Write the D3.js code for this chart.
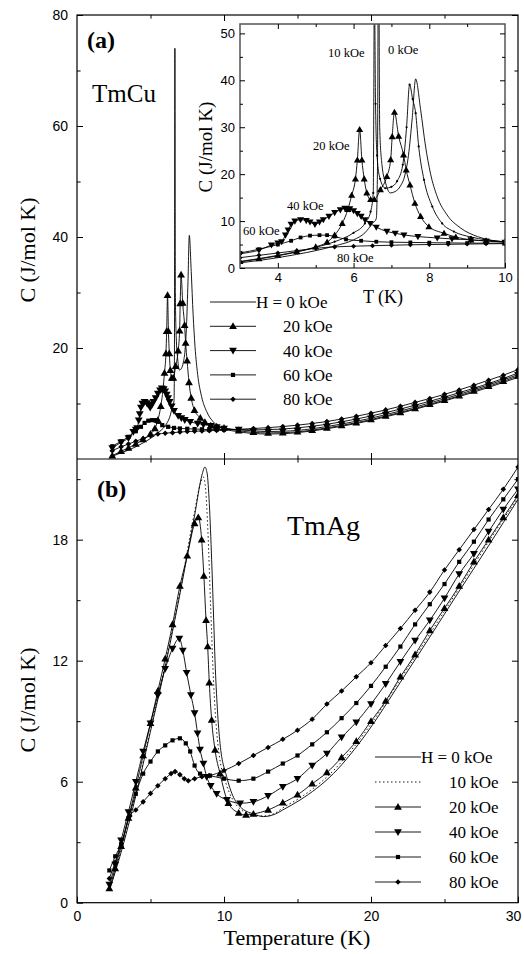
<!DOCTYPE html>
<html>
<head>
<meta charset="utf-8">
<script src="https://cdn.jsdelivr.net/npm/d3@7"></script>
<style>
  body { margin: 0; background: #fff; }
  svg { display: block; }
</style>
</head>
<body>
<div id="chart"></div>
<script>
// TmCu, panel (a) and its inset: [T (K), C (J/mol K)]
var cu0 = [[2.4,0.5],[3,1.1],[3.5,1.6],[4,2.2],[4.5,2.9],[5,3.7],[5.5,4.7],[6,6.0],[6.3,7.5],[6.5,9.5],[6.6,10.5],[6.63,20],[6.66,74],[6.69,30],[6.75,22],[6.85,18],[6.97,16.0],[7.1,16.3],[7.24,17.5],[7.35,19.6],[7.45,24],[7.55,32],[7.64,40.3],[7.77,33.8],[7.9,26],[8.03,20.2],[8.21,15.2],[8.47,11.3],[8.83,8.5],[9.27,6.7],[10,5.5],[11,4.9],[12,4.6],[13,4.5],[14,4.55],[15,4.75],[16,5.05],[17,5.45],[18,5.9],[19,6.4],[20,6.95],[21,7.6],[22,8.25],[23,8.95],[24,9.7],[25,10.45],[26,11.25],[27,12.05],[28,12.9],[29,13.8],[30,14.7]];
var cu10 = [[3,1.3],[3.5,1.9],[4,2.6],[4.5,3.4],[5,4.4],[5.5,5.6],[6,7.5],[6.3,9.5],[6.45,12],[6.52,16],[6.55,60],[6.58,35],[6.62,24],[6.7,19],[6.84,17.0],[7.0,17.3],[7.15,18.5],[7.3,22],[7.4,30],[7.48,39.1],[7.56,36],[7.64,33],[7.72,25.9],[7.86,18.8],[8.08,13.1],[8.34,9.5],[8.65,7.76],[9.1,6.6],[9.5,6.0],[10,5.6]];
var cu20 = [[2.4,0.6],[3,1.4],[3.5,2.0],[4,2.7],[4.5,3.5],[5,4.5],[5.3,5.5],[5.5,7.0],[5.7,9.5],[5.85,12.5],[5.95,15.5],[6.05,19],[6.1,23],[6.16,29.5],[6.22,23],[6.28,19],[6.35,16],[6.45,14.6],[6.55,14.6],[6.71,16.7],[6.88,19.5],[6.98,23.1],[7.02,28],[7.08,33.2],[7.19,28.1],[7.32,24.1],[7.39,20.9],[7.49,17.7],[7.62,13.8],[7.77,11.0],[7.99,8.8],[8.39,7.4],[8.7,6.6],[9.1,6.0],[9.5,5.8],[10,5.6],[11,5.1],[12,4.8],[13,4.7],[14,4.75],[15,4.9],[16,5.2],[17,5.6],[18,6.05],[19,6.55],[20,7.1],[21,7.75],[22,8.4],[23,9.1],[24,9.85],[25,10.6],[26,11.4],[27,12.25],[28,13.1],[29,14.0],[30,14.95]];
var cu40 = [[2.4,2.0],[3,3.0],[3.5,3.8],[3.83,4.9],[4.0,5.3],[4.1,5.6],[4.2,7.0],[4.27,8.1],[4.35,9.3],[4.45,10.0],[4.6,10.3],[4.75,10.1],[4.85,9.8],[4.98,9.3],[5.1,9.8],[5.2,10.3],[5.35,11.0],[5.5,11.8],[5.65,12.4],[5.77,12.75],[5.9,12.6],[6.0,12.2],[6.1,11.6],[6.2,11.0],[6.3,10.3],[6.44,9.5],[6.6,8.7],[6.88,7.8],[7.1,7.4],[7.33,7.05],[7.7,6.7],[8.21,6.4],[8.6,6.2],[9.1,6.0],[9.5,5.75],[10,5.5],[11,5.3],[12,5.05],[13,4.95],[14,5.0],[15,5.15],[16,5.45],[17,5.85],[18,6.3],[19,6.8],[20,7.35],[21,8.0],[22,8.65],[23,9.35],[24,10.1],[25,10.85],[26,11.65],[27,12.5],[28,13.35],[29,14.25],[30,15.2]];
var cu60 = [[2.4,2.3],[3,3.2],[3.5,4.0],[4,5.0],[4.35,5.8],[4.6,6.5],[4.85,6.9],[5.1,7.0],[5.3,7.0],[5.5,6.7],[5.8,6.1],[6.2,5.8],[6.6,5.6],[7,5.5],[7.5,5.45],[8,5.4],[8.5,5.35],[9,5.3],[9.5,5.3],[10,5.3],[11,5.3],[12,5.25],[13,5.3],[14,5.4],[15,5.6],[16,5.9],[17,6.25],[18,6.7],[19,7.2],[20,7.75],[21,8.35],[22,9.0],[23,9.7],[24,10.4],[25,11.15],[26,11.95],[27,12.75],[28,13.6],[29,14.5],[30,15.5]];
var cu80 = [[2.4,1.5],[3,2.2],[3.5,2.7],[4,3.2],[4.5,3.7],[5,4.2],[5.5,4.5],[6,4.65],[6.5,4.75],[7,4.85],[7.5,4.95],[8,5.0],[8.5,5.05],[9,5.1],[9.5,5.15],[10,5.2],[11,5.35],[12,5.5],[13,5.65],[14,5.85],[15,6.1],[16,6.4],[17,6.75],[18,7.2],[19,7.7],[20,8.25],[21,8.85],[22,9.5],[23,10.2],[24,10.9],[25,11.65],[26,12.45],[27,13.3],[28,14.2],[29,15.1],[30,16.1]];

// TmAg, panel (b)
var ag0 = [[2.2,0.6],[3,2.5],[4,5.3],[5,8.5],[6,11.7],[7,15.3],[8,19.2],[8.5,21.2],[8.7,21.6],[8.85,21.3],[9.0,19.8],[9.16,17],[9.3,14],[9.39,12],[9.55,9.6],[9.73,7.9],[10.18,6.25],[10.6,5.3],[11.1,4.76],[12,4.4],[12.7,4.27],[13.5,4.4],[14,4.6],[15.17,5.09],[17.44,6.4],[19.7,8.4],[21.97,10.9],[24.2,13.4],[26,15.45],[28,17.7],[30,20.0]];
var ag10 = [[2.2,0.6],[3,2.6],[4,5.4],[5,8.6],[6,11.8],[7,15.4],[8,19.4],[8.4,20.8],[8.6,21.1],[8.75,20.5],[8.9,18.5],[9.1,14.5],[9.3,10.8],[9.5,8.5],[9.7,7.2],[10.1,6.0],[10.6,5.1],[11.1,4.65],[12,4.35],[12.7,4.3],[13.5,4.45],[14,4.7],[15.17,5.2],[17.44,6.55],[19.7,8.55],[21.97,11.05],[24.2,13.55],[26,15.6],[28,17.9],[30,20.1]];
var ag20 = [[2.2,0.7],[2.6,1.7],[3,2.8],[3.5,4.2],[4,5.7],[4.5,7.3],[5,8.9],[5.5,10.5],[6,12.1],[6.5,13.8],[7,15.7],[7.5,17.2],[8,18.8],[8.25,19.1],[8.48,18.0],[8.63,16.2],[8.78,14.0],[8.89,12.7],[9.0,10.9],[9.16,9.06],[9.39,7.57],[9.73,6.4],[10.3,4.93],[11,4.45],[11.5,4.35],[12,4.4],[13,4.6],[14,4.95],[15,5.35],[16,5.9],[17,6.45],[18,7.2],[19,8.0],[20,9.0],[21,10.0],[22,11.2],[23,12.3],[24,13.5],[25,14.6],[26,15.7],[27,16.9],[28,18.0],[29,19.1],[30,20.2]];
var ag40 = [[2.2,0.9],[2.6,1.9],[3,3.1],[3.5,4.5],[4,6.0],[4.5,7.5],[5,8.9],[5.5,10.3],[6,11.6],[6.5,12.6],[6.96,13.1],[7.2,12.5],[7.46,11.4],[7.75,10.3],[8.0,9.4],[8.2,8.4],[8.37,7.6],[8.6,6.9],[8.82,6.25],[9.1,5.8],[9.5,5.4],[10.2,5.1],[11.1,4.93],[12,5.0],[13,5.3],[14,5.75],[15,6.15],[16,6.8],[17,7.4],[18,8.2],[19,8.95],[20,9.85],[21,10.85],[22,11.95],[23,13.0],[24,14.0],[25,15.1],[26,16.3],[27,17.3],[28,18.4],[29,19.5],[30,20.5]];
var ag60 = [[2.2,1.6],[2.6,2.3],[3,2.9],[3.5,4.2],[4,5.4],[4.5,6.4],[5,7.0],[5.5,7.5],[6,7.8],[6.5,8.05],[7.0,8.15],[7.4,7.9],[7.7,7.5],[8.0,6.8],[8.37,6.4],[9.05,6.3],[10,6.15],[11,6.05],[12,6.15],[13,6.5],[14,6.9],[15,7.3],[16,7.85],[17,8.45],[18,9.15],[19,9.9],[20,10.75],[21,11.7],[22,12.7],[23,13.8],[24,14.8],[25,15.8],[26,16.9],[27,17.9],[28,19.0],[29,20.0],[30,21.0]];
var ag80 = [[2.2,1.2],[2.6,2.0],[3,2.8],[3.6,4.3],[4,4.6],[4.5,5.0],[5,5.42],[5.5,5.8],[6,6.15],[6.4,6.4],[6.67,6.5],[7.0,6.35],[7.3,6.15],[7.57,6.05],[8,6.15],[8.5,6.25],[9,6.3],[10,6.55],[11,6.9],[12,7.3],[13,7.7],[14,8.1],[15,8.55],[16,9.1],[17,9.85],[18,10.5],[19,11.2],[20,11.9],[21,12.75],[22,13.6],[23,14.5],[24,15.4],[25,16.5],[26,17.5],[27,18.5],[28,19.5],[29,20.5],[30,21.6]];

var fieldLabels = ['H = 0 kOe', '10 kOe', '20 kOe', '40 kOe', '60 kOe', '80 kOe'];
var insetLabels = ['0 kOe', '10 kOe', '20 kOe', '40 kOe', '60 kOe', '80 kOe'];

var serif = '"Liberation Serif", "Times New Roman", serif';
var sans = '"Liberation Sans", Arial, sans-serif';

var svg = d3.select('#chart').append('svg')
    .attr('width', 524)
    .attr('height', 954);

var x = d3.scaleLinear().domain([0, 30]).range([77, 518]);
var yA = d3.scaleLinear().domain([0, 80]).range([459, 15]);
var yB = d3.scaleLinear().domain([0, 22]).range([902.7, 459]);
var xI = d3.scaleLinear().domain([3, 10]).range([240, 505]);
var yI = d3.scaleLinear().domain([0, 52]).range([268, 24]);

// marker shapes
function marker(g, kind, cx, cy, s) {
    if (kind == 'up') {
        g.append('path').attr('d', d3.symbol(d3.symbolTriangle, s * 1.2)())
            .attr('transform', 'translate(' + cx + ',' + (cy + 0.5) + ')');
    } else if (kind == 'down') {
        g.append('path').attr('d', d3.symbol(d3.symbolTriangle, s * 1.2)())
            .attr('transform', 'translate(' + cx + ',' + (cy - 0.5) + ') rotate(180)');
    } else if (kind == 'square') {
        g.append('path').attr('d', d3.symbol(d3.symbolSquare, s * 0.8)())
            .attr('transform', 'translate(' + cx + ',' + cy + ')');
    } else if (kind == 'diamond') {
        g.append('path').attr('d', d3.symbol(d3.symbolSquare, s * 0.7)())
            .attr('transform', 'translate(' + cx + ',' + cy + ') rotate(45)');
    } else if (kind == 'dot') {
        g.append('circle').attr('cx', cx).attr('cy', cy).attr('r', 1.1);
    }
}

function drawSeries(g, data, xs, ys, kind, size, dash) {
    var line = d3.line()
        .x(function(d) { return xs(d[0]); })
        .y(function(d) { return ys(d[1]); })
        .curve(d3.curveMonotoneX);
    g.append('path')
        .datum(data)
        .attr('d', line)
        .attr('fill', 'none')
        .attr('stroke', 'black')
        .attr('stroke-width', 0.9)
        .attr('stroke-dasharray', dash || null);
    if (kind) {
        var mg = g.append('g').attr('fill', 'black');
        data.forEach(function(d) {
            marker(mg, kind, xs(d[0]), ys(d[1]), size);
        });
    }
}

function ticks(g, axisFn, scale, major, minor, len, labels, pad, fontSize) {
    var a = axisFn(scale).tickValues(major).tickSize(-len).tickPadding(pad || 8)
        .tickFormat(labels ? d3.format('d') : '');
    var ga = g.append('g').call(a);
    var b = axisFn(scale).tickValues(minor).tickSize(-len * 0.6).tickFormat('');
    var gb = g.append('g').call(b);
    [ga, gb].forEach(function(s) {
        s.select('.domain').remove();
        s.selectAll('line').attr('stroke', 'black').attr('stroke-width', 1);
        s.selectAll('text')
            .attr('fill', 'black')
            .style('font-family', sans)
            .style('font-size', (fontSize || 14) + 'px');
    });
    return ga;
}

svg.append('defs').append('clipPath').attr('id', 'clipA')
    .append('rect').attr('x', 77).attr('y', 15).attr('width', 441).attr('height', 444);
svg.select('defs').append('clipPath').attr('id', 'clipB')
    .append('rect').attr('x', 77).attr('y', 459).attr('width', 441).attr('height', 444);
svg.select('defs').append('clipPath').attr('id', 'clipI')
    .append('rect').attr('x', 240).attr('y', 24).attr('width', 265).attr('height', 244);

// ---- panel (a) TmCu
var pA = svg.append('g');
var dA = pA.append('g').attr('clip-path', 'url(#clipA)');
drawSeries(dA, cu0, x, yA, null, 0);
drawSeries(dA, cu20, x, yA, 'up', 22);
drawSeries(dA, cu40, x, yA, 'down', 22);
drawSeries(dA, cu60, x, yA, 'square', 22);
drawSeries(dA, cu80, x, yA, 'diamond', 22);

ticks(pA.append('g').attr('transform', 'translate(77,0)'), d3.axisLeft, yA, [20, 40, 60, 80], [10, 30, 50, 70], 6, true, 9);
ticks(pA.append('g').attr('transform', 'translate(518,0)'), d3.axisRight, yA, [20, 40, 60, 80], [10, 30, 50, 70], 6, false);
ticks(pA.append('g').attr('transform', 'translate(0,15)'), d3.axisTop, x, [10, 20], [5, 15, 25], 6, false);
ticks(pA.append('g').attr('transform', 'translate(0,459)'), d3.axisBottom, x, [10, 20], [5, 15, 25], 6, false);

pA.append('text').attr('x', 87).attr('y', 48)
    .style('font-family', serif).style('font-size', '24px').style('font-weight', 'bold')
    .text('(a)');
pA.append('text').attr('x', 92).attr('y', 102)
    .style('font-family', serif).style('font-size', '25px')
    .text('TmCu');
pA.append('text')
    .attr('transform', 'translate(35,250) rotate(-90)')
    .attr('text-anchor', 'middle')
    .style('font-family', serif).style('font-size', '22px')
    .text('C (J/mol K)');

// legend (a)
var legA = [[null, 0], ['up', 2], ['down', 3], ['square', 4], ['diamond', 5]];
legA.forEach(function(l, i) {
    var cy = 302 + i * 24.3;
    var lg = pA.append('g');
    lg.append('line').attr('x1', 210).attr('x2', 256).attr('y1', cy).attr('y2', cy)
        .attr('stroke', 'black').attr('stroke-width', 0.9);
    if (l[0]) marker(lg, l[0], 233, cy, 22);
    lg.append('text')
        .attr('x', i == 0 ? 256 : 283).attr('y', cy + 6)
        .style('font-family', serif).style('font-size', '17px')
        .text(fieldLabels[l[1]]);
});

// ---- inset
var pI = svg.append('g');
pI.append('rect').attr('x', 240).attr('y', 24).attr('width', 265).attr('height', 244).attr('fill', 'white');
var dI = pI.append('g').attr('clip-path', 'url(#clipI)');
drawSeries(dI, cu0, xI, yI, null, 0);
drawSeries(dI, cu10, xI, yI, 'dot', 0);
drawSeries(dI, cu20, xI, yI, 'up', 18);
drawSeries(dI, cu40, xI, yI, 'down', 18);
drawSeries(dI, cu60, xI, yI, 'square', 18);
drawSeries(dI, cu80, xI, yI, 'diamond', 18);

pI.append('rect').attr('x', 240).attr('y', 24).attr('width', 265).attr('height', 244)
    .attr('fill', 'none').attr('stroke', '#555').attr('stroke-width', 1.5);
ticks(pI.append('g').attr('transform', 'translate(240,0)'), d3.axisLeft, yI, [0, 10, 20, 30, 40, 50], [5, 15, 25, 35, 45], 5, true, 5, 13);
ticks(pI.append('g').attr('transform', 'translate(505,0)'), d3.axisRight, yI, [10, 20, 30, 40, 50], [5, 15, 25, 35, 45], 5, false);
ticks(pI.append('g').attr('transform', 'translate(0,268)'), d3.axisBottom, xI, [4, 6, 8, 10], [5, 7, 9], 5, true, 5, 13);
ticks(pI.append('g').attr('transform', 'translate(0,24)'), d3.axisTop, xI, [4, 6, 8], [5, 7, 9], 5, false);

pI.append('text').attr('x', 383).attr('y', 303).attr('text-anchor', 'middle')
    .style('font-family', serif).style('font-size', '18px').text('T (K)');
pI.append('text')
    .attr('transform', 'translate(212,147) rotate(-90)')
    .attr('text-anchor', 'middle')
    .style('font-family', serif).style('font-size', '19px')
    .text('C (J/mol K)');

var insetPos = [[388, 54], [328, 57], [313, 150], [287, 210], [243, 235], [337, 262]];
insetLabels.forEach(function(t, i) {
    pI.append('text').attr('x', insetPos[i][0]).attr('y', insetPos[i][1])
        .style('font-family', serif).style('font-size', '12.5px')
        .text(t);
});

// ---- panel (b) TmAg
var pB = svg.append('g');
var dB = pB.append('g').attr('clip-path', 'url(#clipB)');
drawSeries(dB, ag0, x, yB, null, 0);
drawSeries(dB, ag10, x, yB, null, 0, '1.5,2.5');
drawSeries(dB, ag20, x, yB, 'up', 22);
drawSeries(dB, ag40, x, yB, 'down', 22);
drawSeries(dB, ag60, x, yB, 'square', 22);
drawSeries(dB, ag80, x, yB, 'diamond', 22);

ticks(pB.append('g').attr('transform', 'translate(77,0)'), d3.axisLeft, yB, [0, 6, 12, 18], [3, 9, 15, 21], 6, true, 9);
ticks(pB.append('g').attr('transform', 'translate(518,0)'), d3.axisRight, yB, [6, 12, 18], [3, 9, 15, 21], 6, false);
var xAxisB = ticks(pB.append('g').attr('transform', 'translate(0,902.7)'), d3.axisBottom, x, [0, 10, 20, 30], [5, 15, 25], 6, true, 8);
// keep the last label inside the window
xAxisB.selectAll('text').filter(function(d) { return d == 30; }).attr('dx', -5);
ticks(pB.append('g').attr('transform', 'translate(0,459)'), d3.axisTop, x, [10, 20], [5, 15, 25], 6, false);

pB.append('text').attr('x', 97).attr('y', 497)
    .style('font-family', serif).style('font-size', '24px').style('font-weight', 'bold')
    .text('(b)');
pB.append('text').attr('x', 287).attr('y', 535)
    .style('font-family', serif).style('font-size', '28px')
    .text('TmAg');
pB.append('text')
    .attr('transform', 'translate(35,700) rotate(-90)')
    .attr('text-anchor', 'middle')
    .style('font-family', serif).style('font-size', '22px')
    .text('C (J/mol K)');
pB.append('text').attr('x', 297).attr('y', 945).attr('text-anchor', 'middle')
    .style('font-family', serif).style('font-size', '22px')
    .text('Temperature (K)');

// legend (b)
var legB = [[null, 0, null], [null, 1, '1.5,2.5'], ['up', 2], ['down', 3], ['square', 4], ['diamond', 5]];
legB.forEach(function(l, i) {
    var cy = 757 + i * 25;
    var lg = pB.append('g');
    lg.append('line').attr('x1', 375).attr('x2', 421).attr('y1', cy).attr('y2', cy)
        .attr('stroke', 'black').attr('stroke-width', 0.9)
        .attr('stroke-dasharray', l[2] || null);
    if (l[0]) marker(lg, l[0], 398, cy, 22);
    lg.append('text')
        .attr('x', i == 0 ? 421 : 449).attr('y', cy + 6)
        .style('font-family', serif).style('font-size', '17px')
        .text(fieldLabels[l[1]]);
});

// frames
svg.append('rect').attr('x', 77).attr('y', 15).attr('width', 441).attr('height', 887.7)
    .attr('fill', 'none').attr('stroke', 'black').attr('stroke-width', 1.2);
svg.append('line').attr('x1', 77).attr('x2', 518).attr('y1', 459).attr('y2', 459)
    .attr('stroke', 'black').attr('stroke-width', 1.2);
</script>
</body>
</html>
